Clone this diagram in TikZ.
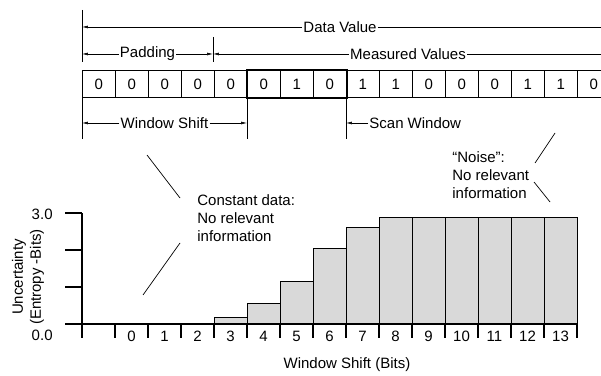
\documentclass[tikz,border=0pt]{standalone}
\usepackage{fontspec}
\setmainfont{Liberation Sans}
\usetikzlibrary{arrows.meta,positioning}

\begin{document}
\begin{tikzpicture}[
  x=0.03cm, y=-0.03cm,
  txt/.style={font=\fontsize{12.8}{15.5}\selectfont, inner sep=1pt},
  lbl/.style={txt, fill=white},
  cell/.style={draw, line width=0.6pt, minimum width=0.99cm, minimum height=0.81cm,
               inner sep=0pt, anchor=north west, txt},
  window/.style={line width=1.6pt},
  dim/.style={-{Latex[length=5pt,width=2.4pt]}, line width=0.5pt},
  rule/.style={line width=0.6pt},
  axis/.style={line width=1.5pt},
  bar/.style={draw, line width=0.7pt, fill=gray!30}
]
\clip (0,0) rectangle (601,376);

% Data row
\foreach \v [count=\i from 0] in {0,0,0,0,0,0,1,0,1,1,0,0,0,1,1,0}
  \node[cell] (c\i) at (82+33*\i,70) {\v};
\draw[window] (c5.north west) rectangle (c7.south east);

% Dimension lines above
\node[lbl] (data) at (340,27) {Data Value};
\coordinate (dataL) at (82,27);
\coordinate (dataR) at (610,27);
\draw[dim] (data) -- (dataL);
\draw[rule] (data) -- (dataR);
\draw[rule] (82,10) -- (82,62);

\node[lbl] (pad) at (147.5,54) {Padding};
\node[lbl] (meas) at (408,54) {Measured Values};
\coordinate (padL) at (82,54);
\coordinate (padR) at (213,54);
\coordinate (measR) at (610,54);
\draw[dim] (pad) -- (padL);
\draw[dim] (pad) -- (padR);
\draw[dim] (meas) -- (padR);
\draw[rule] (meas) -- (measR);
\draw[rule] (213,37) -- (213,62);

% Dimension lines below
\draw[rule] (c0.south west) -- ++(0,41);
\draw[rule] (c5.south west) -- ++(0,41);
\draw[rule] (c8.south west) -- ++(0,41);
\node[lbl] (shift) at (164.5,123) {Window Shift};
\node[lbl, anchor=west] (scan) at (368,123) {Scan Window};
\draw[dim] (shift) -- (c0.south west |- shift);
\draw[dim] (shift) -- (c5.south west |- shift);
\draw[dim] (scan) -- (c8.south west |- scan);

% Notes
\node[txt, anchor=west, align=left] (const) at (196,218) {Constant data:\\No relevant\\information};
\node[txt, anchor=west, align=left] (noise) at (451,175) {“Noise”:\\No relevant\\information};
\draw[rule] (147,155) -- (180,198);
\draw[rule] (180,243) -- (143,295);
\draw[rule] (555,133) -- (535,163);
\draw[rule] (534,182) -- (550,202);

% Chart
\foreach \k/\h in {3/317,4/303,5/281,6/248,7/227,8/217,9/217,10/217,11/217,12/217,13/217}
  \draw[bar] (115+33*\k,324) rectangle (148+33*\k,\h);
\draw[axis] (82,213) -- (82,338);
\draw[axis] (65,324) -- (577,324);
\foreach \y in {213,250,287}
  \draw[axis] (65,\y) -- (82,\y);
\foreach \k in {1,...,15}
  \draw[axis] (82+33*\k,324) -- ++(0,14);
\foreach \k in {0,...,13}
  \node[txt] (t\k) at (131.5+33*\k,336) {\k};
\node[txt, anchor=east] (ymax) at (54,214) {3.0};
\node[txt, anchor=east] (ymin) at (54,335) {0.0};
\node[txt, rotate=90, align=center] (ylab) at (28,277) {Uncertainty\\(Entropy -Bits)};
\node[txt] (xlab) at (347,365) {Window Shift (Bits)};

\end{tikzpicture}
\end{document}
